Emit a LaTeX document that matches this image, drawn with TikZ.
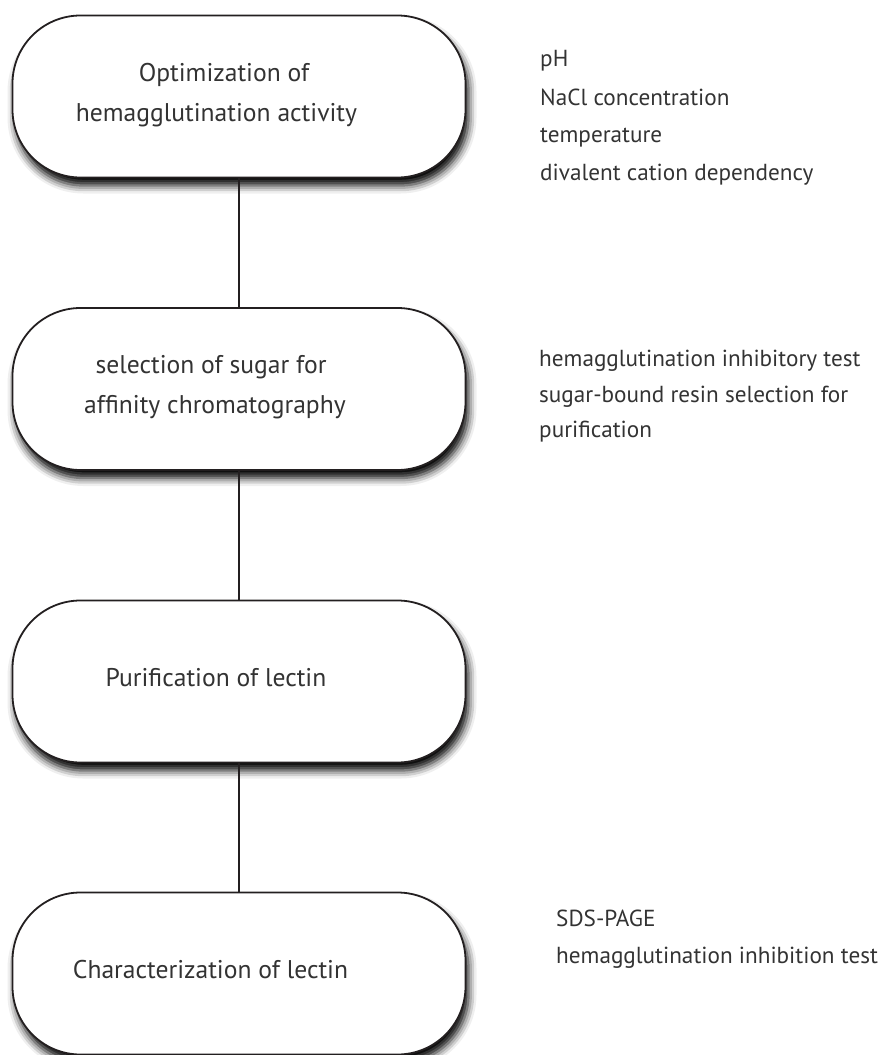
\documentclass[tikz,border=0pt]{standalone}
\usepackage{fontspec}
\setmainfont{PT Sans}
\usetikzlibrary{shadows.blur}
\definecolor{linec}{HTML}{231F20}
\definecolor{textc}{HTML}{333333}
\tikzset{
  stagebox/.style={draw=linec, line width=1.8pt, fill=white, rounded corners=68pt,
    minimum width=453pt, minimum height=162pt, inner sep=0pt,
    blur shadow={shadow xshift=3pt, shadow yshift=-8pt, shadow blur radius=8pt, shadow opacity=100}},
  boxtxt/.style={anchor=base, text=textc, inner sep=0pt, font=\fontsize{25.6}{30}\selectfont},
  listtxt/.style={anchor=base west, text=textc, inner sep=0pt, font=\fontsize{23.2}{28}\selectfont},
  link/.style={draw=linec, line width=1.6pt}
}
\begin{document}
\begin{tikzpicture}[x=1pt,y=-1pt]
\useasboundingbox (0,0) rectangle (893,1055);
% boxes
\node[stagebox] (b1) at (239,96.5) {};
\node[stagebox] (b2) at (239,389) {};
\node[stagebox] (b3) at (239,681.5) {};
\node[stagebox] (b4) at (239,973.5) {};
% connectors
\draw[link] (b1.south) -- (b2.north);
\draw[link] (b2.south) -- (b3.north);
\draw[link] (b3.south) -- (b4.north);
% box texts
\node[boxtxt] (t1a) at (224,81) {Optimization of};
\node[boxtxt] (t1b) at (216.5,121) {hemagglutination activity};
\node[boxtxt] (t2a) at (211,373) {selection of sugar for};
\node[boxtxt] (t2b) at (215,413) {affinity chromatography};
\node[boxtxt] (t3) at (216,686) {Purification of lectin};
\node[boxtxt] (t4) at (210.5,978) {Characterization of lectin};
% side lists
\node[listtxt] (l1a) at (540,66.5) {pH};
\node[listtxt] (l1b) at (540,105) {NaCl concentration};
\node[listtxt] (l1c) at (540,142) {temperature};
\node[listtxt] (l1d) at (540,180) {divalent cation dependency};
\node[listtxt] (l2a) at (539,366) {hemagglutination inhibitory test};
\node[listtxt] (l2b) at (539,402) {sugar-bound resin selection for};
\node[listtxt] (l2c) at (539,437.5) {purification};
\node[listtxt] (l4a) at (556,926) {SDS-PAGE};
\node[listtxt] (l4b) at (556,963) {hemagglutination inhibition test};
\end{tikzpicture}
\end{document}
